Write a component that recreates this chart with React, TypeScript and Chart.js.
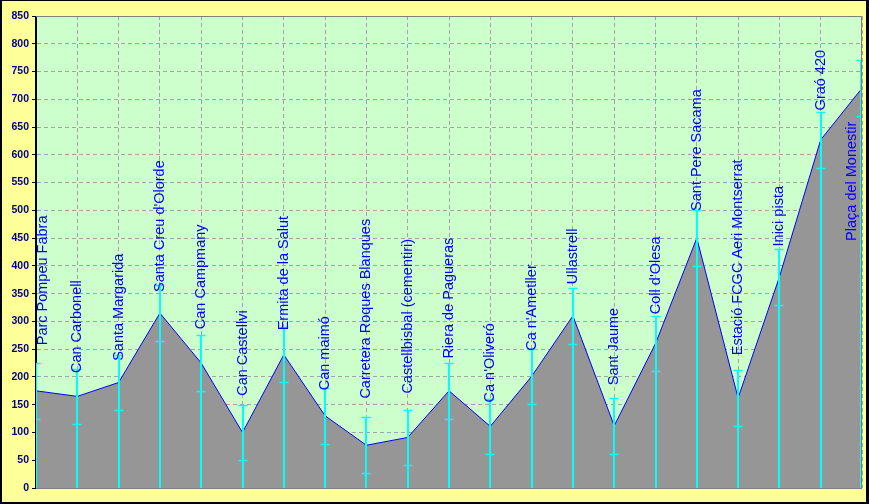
import React, { useEffect, useRef } from 'react';
import { Chart, registerables } from 'chart.js';

Chart.register(...registerables);

const categories = [
  'Parc Pompeu Fabra',
  'Can Carbonell',
  'Santa Margarida',
  "Santa Creu d'Olorde",
  'Can Campmany',
  'Can Castellvi',
  'Ermita de la Salut',
  'Can maimó',
  'Carretera Roques Blanques',
  'Castellbisbal (cementiri)',
  'Riera de Pagueras',
  "Ca n'Oliveró",
  "Ca n'Ametller",
  'Ullastrell',
  'Sant Jaume',
  "Coll d'Olesa",
  'Sant Pere Sacama',
  'Estació FCGC Aeri Montserrat',
  'Inici pista',
  'Graó 420',
  'Plaça del Monestir',
];

const elevations = [175, 165, 190, 315, 225, 100, 240, 130, 77, 91, 175, 111, 201, 310, 112, 260, 450, 162, 380, 627, 720];

const errorPlus = [50, 50, 50, 50, 50, 50, 50, 50, 50, 50, 50, 50, 50, 50, 50, 50, 50, 50, 50, 50, 50];
const errorMinus = [50, 50, 50, 50, 50, 50, 50, 50, 50, 50, 50, 50, 50, 50, 50, 50, 50, 50, 50, 50, 50];

// value (elevation units) at which each rotated label begins
const labelAnchors = [257, 207, 229, 353, 286, 166, 284, 176, 161, 170, 233, 154, 247, 367, 185, 313, 499, 239, 435, 680, 445];

const yMin = 0;
const yMax = 850;
const yStep = 50;

const W = 869;
const H = 504;

const framePlugin = {
  id: 'framePlugin',
  beforeDraw(chart: any) {
    const { ctx, chartArea } = chart;
    ctx.save();
    ctx.fillStyle = '#FFFF99';
    ctx.fillRect(0, 0, W, H);
    ctx.fillStyle = '#CCFFCC';
    ctx.fillRect(chartArea.left, chartArea.top, chartArea.right - chartArea.left, chartArea.bottom - chartArea.top);
    ctx.restore();
  },
  afterDatasetsDraw(chart: any) {
    const { ctx, chartArea } = chart;
    const xs = chart.scales.x;
    const ys = chart.scales.y;
    // error bars
    ctx.save();
    ctx.beginPath();
    ctx.rect(chartArea.left, chartArea.top, chartArea.right - chartArea.left, chartArea.bottom - chartArea.top);
    ctx.clip();
    ctx.strokeStyle = '#00FFFF';
    elevations.forEach((v, i) => {
      let x = Math.round(xs.getPixelForValue(i));
      if (i === elevations.length - 1) x -= 1;
      const yTop = Math.round(ys.getPixelForValue(v + errorPlus[i])) + 0.5;
      const yLow = Math.round(ys.getPixelForValue(v - errorMinus[i])) + 0.5;
      const y0 = ys.getPixelForValue(0);
      ctx.lineWidth = 2;
      ctx.beginPath();
      ctx.moveTo(x, y0);
      ctx.lineTo(x, yTop);
      ctx.stroke();
      ctx.lineWidth = 1.5;
      ctx.beginPath();
      ctx.moveTo(x - 4.5, yTop);
      ctx.lineTo(x + 4.5, yTop);
      ctx.moveTo(x - 4.5, yLow);
      ctx.lineTo(x + 4.5, yLow);
      ctx.stroke();
    });
    ctx.restore();

    // plot frame (top, right, bottom) and y axis line
    ctx.save();
    ctx.strokeStyle = '#808080';
    ctx.lineWidth = 1;
    ctx.beginPath();
    ctx.moveTo(chartArea.left, chartArea.top + 0.5);
    ctx.lineTo(chartArea.right - 0.5, chartArea.top + 0.5);
    ctx.lineTo(chartArea.right - 0.5, chartArea.bottom);
    ctx.moveTo(chartArea.left, chartArea.bottom + 0.5);
    ctx.lineTo(chartArea.right, chartArea.bottom + 0.5);
    ctx.stroke();
    ctx.strokeStyle = '#000000';
    ctx.beginPath();
    ctx.moveTo(chartArea.left - 0.5, chartArea.top);
    ctx.lineTo(chartArea.left - 0.5, chartArea.bottom + 1);
    ctx.stroke();
    ctx.restore();

    // rotated labels
    ctx.save();
    ctx.fillStyle = '#0000FF';
    ctx.font = '14.5px Arial, "Liberation Sans", sans-serif';
    ctx.textAlign = 'left';
    ctx.textBaseline = 'middle';
    categories.forEach((name, i) => {
      let x = xs.getPixelForValue(i);
      x = Math.min(Math.max(x, chartArea.left + 7), chartArea.right - 10);
      const y = ys.getPixelForValue(labelAnchors[i]);
      ctx.save();
      ctx.translate(x, y);
      ctx.rotate(-Math.PI / 2);
      ctx.fillText(name, 0, 0);
      ctx.restore();
    });
    ctx.restore();
  },
  afterDraw(chart: any) {
    const { ctx } = chart;
    ctx.save();
    ctx.fillStyle = '#000000';
    ctx.fillRect(0, 0, W, 1);
    ctx.fillRect(0, 0, 2, H);
    ctx.fillRect(W - 3, 0, 3, H);
    ctx.fillRect(0, H - 2, W, 2);
    ctx.restore();
  },
};

export default function App() {
  const ref = useRef<HTMLCanvasElement | null>(null);

  useEffect(() => {
    document.body.style.margin = '0';
    const canvas = ref.current;
    if (!canvas) return;
    const chart = new Chart(canvas, {
      type: 'line',
      data: {
        labels: categories,
        datasets: [
          {
            data: elevations,
            fill: 'origin',
            backgroundColor: '#969696',
            borderColor: '#0000FF',
            borderWidth: 1,
            pointRadius: 0,
            tension: 0,
          },
        ],
      },
      options: {
        animation: false,
        responsive: false,
        devicePixelRatio: 1,
        layout: { padding: { left: 0, top: 16, right: 7, bottom: 16 } },
        plugins: {
          legend: { display: false },
          tooltip: { enabled: false },
        },
        scales: {
          x: {
            type: 'category',
            offset: false,
            ticks: { display: false },
            grid: { display: true, color: '#A8A0A8', drawTicks: false, tickLength: 0 },
            border: { display: false, dash: [4, 3] },
            afterFit: (s: any) => {
              s.height = 0;
            },
          },
          y: {
            min: yMin,
            max: yMax,
            ticks: {
              stepSize: yStep,
              color: '#000080',
              padding: 3,
              font: { family: 'Arial, "Liberation Sans", sans-serif', size: 10.5, weight: 'bold' },
            },
            grid: { color: '#A8A0A8', tickLength: 4, tickColor: '#000000' },
            border: { display: true, color: '#000000', dash: [4, 3] },
            afterFit: (s: any) => {
              s.width = 36;
            },
          },
        },
      },
      plugins: [framePlugin],
    } as any);
    return () => chart.destroy();
  }, []);

  return <canvas ref={ref} width={W} height={H} style={{ display: 'block', width: W, height: H }} />;
}
